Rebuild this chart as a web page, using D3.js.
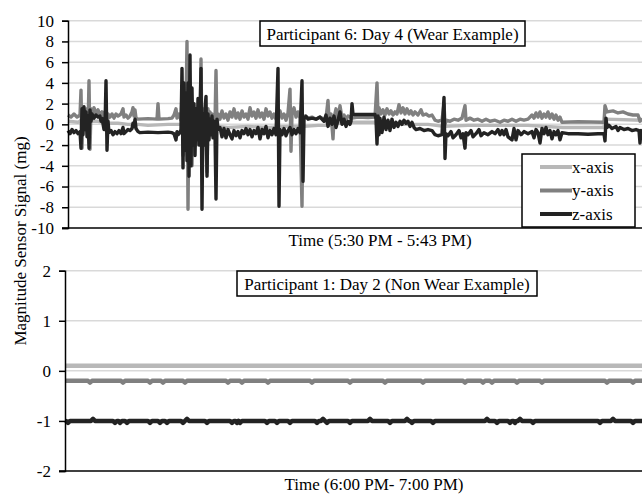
<!DOCTYPE html>
<meta charset="utf-8">
<style>
body { margin: 0; background: #fff; }
text { font-family: "Liberation Serif", "Times New Roman", serif; fill: #000; }
</style>
<svg width="642" height="494"></svg>
<script src="https://d3js.org/d3.v7.min.js"></script>
<script>
// ---- data: [sample index, signal (mg)] ----
var seriesNames = ["x-axis", "y-axis", "z-axis"];
var seriesColors = ["#b8b8b8", "#808080", "#232323"];

var wearTicks = [10, 8, 6, 4, 2, 0, -2, -4, -6, -8, -10];
var wearX = [[0,0.3],[10,0.2],[12,0.3],[13,0.4],[14,-1.0],[15,0.3],[20,0.1],[21,-1.5],[22,0.3],[30,0.3],[40,0.1],[50,0.1],[60,0.0],[70,0.0],[80,-0.1],[100,0.0],[113,0.0],[119,2.0],[120,-3.0],[125,1.0],[130,-1.0],[134,0.5],[140,-0.5],[148,0.5],[150,-0.2],[160,-0.3],[180,-0.2],[200,-0.3],[220,-0.2],[236,-0.2],[250,-0.1],[264,-0.1],[265,-0.3],[266,0.0],[270,0.1],[285,0.2],[307,0.2],[310,-0.2],[330,0.0],[360,0.0],[376,-0.2],[400,-0.1],[430,-0.1],[460,-0.1],[495,-0.3],[536,-0.3],[537,0.5],[574,0.4]];
var wearY = [[0,0.9],[3,0.7],[6,1.0],[9,0.7],[12,0.9],[13,3.3],[14,-2.3],[15,1.0],[17,0.5],[19,1.5],[20,-0.5],[21,4.2],[22,-2.4],[23,1.5],[24,0.5],[26,1.6],[28,1.0],[30,1.4],[32,0.9],[34,1.2],[36,0.8],[38,1.5],[39,-0.5],[40,1.0],[42,0.7],[44,1.0],[46,0.6],[48,1.0],[50,0.8],[53,1.0],[55,1.5],[56,0.7],[58,0.9],[60,0.6],[62,0.8],[64,1.2],[65,1.6],[66,0.8],[67,1.4],[68,0.6],[70,0.5],[80,0.55],[89,0.5],[90,2.0],[91,0.5],[100,0.55],[104,0.6],[106,0.9],[108,1.5],[109,0.6],[111,1.0],[113,0.4],[114,3.0],[115,-3.0],[116,2.5],[117,-2.0],[118,2.0],[119,8.0],[120,-8.2],[121,2.0],[122,-3.0],[123,3.5],[124,-4.0],[125,2.0],[126,-1.5],[127,1.5],[128,-2.0],[129,1.5],[130,-1.0],[131,2.0],[132,-1.5],[133,6.3],[134,-2.5],[135,1.5],[136,-1.0],[137,1.0],[138,-2.0],[139,-4.6],[140,1.5],[141,-0.5],[142,1.2],[143,0.0],[144,1.0],[145,-0.5],[146,0.8],[147,0.2],[148,5.2],[149,-0.5],[150,1.0],[152,0.5],[154,1.3],[156,0.6],[158,1.0],[160,0.4],[162,1.2],[164,0.7],[166,1.5],[168,0.6],[170,1.1],[172,0.5],[174,1.3],[176,0.7],[178,1.0],[180,0.5],[182,1.6],[184,0.8],[186,1.2],[188,0.6],[190,1.4],[192,0.7],[194,1.1],[196,0.5],[198,1.5],[200,0.8],[202,1.2],[204,0.6],[206,1.0],[208,0.5],[210,0.8],[212,1.3],[214,0.6],[216,1.0],[218,0.4],[220,1.1],[222,3.4],[223,-2.6],[224,1.0],[226,1.6],[228,0.7],[230,1.2],[232,0.6],[234,-7.9],[235,0.6],[236,0.8],[240,0.6],[244,0.7],[248,0.5],[252,0.7],[256,0.5],[258,0.6],[260,2.3],[261,0.5],[263,1.0],[265,-1.4],[266,0.6],[268,1.5],[270,0.5],[272,1.8],[274,0.6],[276,0.9],[278,0.5],[280,0.8],[284,0.6],[290,0.7],[300,0.65],[307,0.7],[309,4.0],[310,0.8],[311,1.6],[313,1.0],[315,1.4],[317,0.9],[319,1.5],[321,1.0],[323,1.3],[325,0.9],[327,1.2],[329,1.0],[331,1.9],[333,1.1],[335,1.6],[337,1.0],[339,1.5],[341,1.0],[343,1.3],[345,0.9],[347,1.2],[350,0.9],[353,1.4],[355,0.9],[358,1.0],[361,0.8],[364,0.9],[367,0.4],[370,0.3],[374,0.4],[376,2.0],[377,0.0],[378,0.4],[382,0.3],[386,0.5],[390,0.4],[394,0.6],[397,1.8],[398,0.4],[402,0.6],[406,0.4],[410,0.5],[414,0.3],[418,0.5],[422,0.3],[427,0.4],[432,0.2],[436,0.4],[440,0.3],[444,0.5],[448,0.3],[452,0.5],[456,0.4],[460,0.5],[464,0.9],[466,0.6],[468,1.1],[470,0.7],[472,1.2],[474,0.6],[476,1.0],[478,0.7],[480,1.2],[482,0.6],[484,1.0],[486,0.5],[488,0.9],[490,0.4],[492,0.7],[494,0.2],[510,0.25],[536,0.2],[537,1.8],[539,1.2],[545,1.3],[550,1.1],[555,1.2],[560,1.0],[565,0.9],[570,0.9],[572,0.3],[574,0.6]];
var wearZ = [[0,-0.6],[2,-0.9],[4,-0.5],[6,-0.8],[8,-0.6],[10,-0.9],[12,-0.7],[13,-2.3],[14,1.5],[15,-1.0],[16,1.7],[17,-0.5],[18,1.2],[19,-1.2],[20,0.8],[21,-2.3],[22,1.4],[23,0.3],[24,1.0],[26,0.6],[28,0.9],[30,0.7],[32,0.8],[33,0.3],[34,0.6],[36,-0.5],[37,-0.3],[38,4.2],[39,-2.5],[40,0.3],[41,-0.8],[43,-0.6],[45,-1.0],[47,-0.7],[49,-0.9],[51,-0.6],[53,-0.9],[55,-0.3],[56,-0.9],[58,-0.7],[60,-0.5],[62,-0.6],[64,-0.4],[65,0.1],[66,-0.2],[67,0.5],[68,-0.4],[70,-0.7],[72,-0.8],[80,-0.75],[90,-0.8],[100,-0.75],[104,-0.8],[106,-0.9],[108,-1.5],[109,-0.7],[110,-1.0],[112,-0.8],[113,-0.5],[114,5.4],[115,-4.2],[116,4.0],[117,-2.5],[118,3.0],[119,-3.5],[120,4.0],[121,-5.0],[122,6.7],[123,-4.0],[124,3.5],[125,-2.0],[126,2.0],[127,-3.0],[128,1.5],[129,-1.5],[130,2.5],[131,-2.0],[132,1.0],[133,5.4],[134,-8.2],[135,1.0],[136,-2.0],[137,1.5],[138,2.7],[139,-5.0],[140,1.0],[141,-1.5],[142,0.5],[143,-1.0],[144,0.8],[145,-1.3],[146,0.3],[147,-0.8],[148,-7.2],[149,0.5],[150,-0.5],[152,-0.3],[154,-1.2],[156,-0.4],[158,-1.3],[160,-0.5],[162,-1.0],[164,-1.4],[166,-0.6],[168,-1.1],[170,-0.7],[172,-1.3],[174,-0.6],[176,-0.9],[178,-0.4],[180,-1.0],[182,-0.5],[184,-1.2],[186,-0.6],[188,-0.9],[190,-0.3],[192,-1.4],[194,-0.5],[196,-0.9],[198,-0.2],[200,-1.3],[202,-0.6],[204,-1.0],[206,-0.4],[208,-1.0],[210,5.4],[211,-7.9],[212,-0.5],[214,-1.0],[216,-0.4],[218,-1.1],[220,-0.6],[222,-0.3],[224,-1.0],[226,-0.5],[228,-0.9],[230,-0.4],[232,-0.8],[234,4.2],[235,-5.5],[236,0.5],[238,0.8],[240,0.5],[244,0.6],[248,0.5],[252,0.7],[256,0.3],[258,0.9],[260,-0.2],[262,0.6],[264,0.0],[266,0.8],[268,-0.3],[270,0.4],[272,1.2],[274,0.0],[276,0.5],[278,-0.2],[280,0.3],[282,0.0],[283,0.3],[284,2.0],[285,0.95],[300,0.95],[307,0.95],[308,0.5],[309,-1.9],[310,0.8],[311,-1.0],[312,0.6],[314,-0.8],[316,0.7],[318,-0.5],[320,0.4],[322,-0.6],[324,0.5],[326,-0.3],[328,0.2],[330,-0.2],[332,0.3],[334,0.0],[336,0.4],[338,0.1],[340,0.3],[342,-0.2],[344,0.2],[346,-0.3],[348,-0.5],[352,-0.4],[356,-0.6],[360,-0.5],[364,-0.6],[367,-1.0],[370,-1.1],[374,-1.0],[376,2.6],[377,-3.3],[378,-0.9],[380,-1.1],[383,-0.7],[385,-1.3],[388,-1.0],[391,-0.6],[393,-1.3],[395,-0.9],[397,-2.3],[398,-0.8],[400,-1.0],[403,-0.6],[405,-1.2],[408,-0.9],[411,-0.5],[413,-1.1],[416,-0.8],[420,-1.0],[424,-0.7],[427,-0.9],[430,-0.5],[432,-1.0],[434,-0.6],[436,-1.0],[438,-0.5],[440,-1.2],[444,-1.5],[446,-0.4],[448,-1.5],[450,-0.6],[453,-1.0],[456,-0.7],[460,-0.9],[464,-0.7],[466,-1.3],[468,-0.5],[470,-0.8],[472,-1.8],[474,-0.4],[476,-0.9],[478,-0.3],[480,-1.0],[482,-0.6],[484,-1.4],[486,-0.7],[488,-1.0],[490,-0.6],[492,-1.5],[494,-0.8],[500,-0.9],[510,-0.9],[520,-0.95],[530,-0.9],[536,-0.9],[537,-1.6],[538,0.6],[539,-0.3],[541,-0.1],[544,-0.4],[548,-0.2],[550,-0.6],[552,-0.3],[556,-0.5],[560,-0.4],[564,-0.6],[568,-0.5],[571,-0.6],[572,-1.8],[573,-0.6],[574,-0.8]];

var nonWearTicks = [2, 1, 0, -1, -2];
var nonWearX = [[0,0.1],[200,0.1],[400,0.1],[577,0.1]];
var nonWearY = [[0,-0.2],[23,-0.2],[25,-0.235],[27,-0.2],[56,-0.2],[58,-0.235],[60,-0.2],[83,-0.2],[85,-0.235],[87,-0.2],[96,-0.2],[98,-0.235],[100,-0.2],[118,-0.2],[120,-0.235],[122,-0.2],[161,-0.2],[163,-0.235],[165,-0.2],[175,-0.2],[177,-0.235],[179,-0.2],[201,-0.2],[203,-0.235],[205,-0.2],[245,-0.2],[247,-0.235],[249,-0.2],[283,-0.2],[285,-0.235],[287,-0.2],[318,-0.2],[320,-0.235],[322,-0.2],[356,-0.2],[358,-0.235],[360,-0.2],[398,-0.2],[400,-0.235],[402,-0.2],[416,-0.2],[418,-0.235],[420,-0.2],[425,-0.2],[427,-0.235],[429,-0.2],[450,-0.2],[452,-0.235],[454,-0.2],[475,-0.2],[477,-0.235],[479,-0.2],[540,-0.2],[542,-0.235],[544,-0.2],[566,-0.2],[568,-0.235],[570,-0.2],[577,-0.2]];
var nonWearZ = [[0,-1],[1,-1],[3,-1.04],[5,-1],[26,-1],[28,-0.96],[30,-1],[48,-1],[50,-1.04],[52,-1],[53.5,-1],[55,-1.04],[57,-1],[60,-1],[62,-1.04],[64,-1],[83,-1],[85,-1.04],[87,-1],[93,-1],[95,-1.04],[97,-1],[100,-1],[102,-1.04],[104,-1],[116,-1],[118,-1.04],[120,-1],[122,-0.96],[124,-1],[140,-1],[142,-1.04],[144,-1],[165,-1],[167,-1.04],[169,-1],[170.5,-1],[172,-1.04],[173.5,-1],[175,-1.04],[177,-1],[200,-1],[202,-1.04],[204,-1],[210,-1],[212,-1.04],[214,-1],[223,-1],[225,-1.04],[227,-1],[250,-1],[252,-1.04],[254,-1],[256,-1],[258,-0.96],[260,-1],[262,-1.04],[264,-1],[283,-1],[285,-1.04],[287,-1],[303,-1],[305,-0.96],[307,-1],[323,-1],[325,-1.04],[327,-1],[340,-1],[342,-0.96],[344,-1],[345,-1],[347,-1.04],[349,-1],[366,-1],[368,-1.04],[370,-1],[420,-1],[422,-0.96],[424,-1],[430,-1],[432,-1.04],[434,-1],[443,-1],[445,-1.04],[447,-1],[448.5,-1],[450,-1.04],[451.5,-1],[453,-1],[455,-0.96],[457,-1],[466,-1],[468,-1.04],[470,-1],[533,-1],[535,-1.04],[537,-1],[546,-1],[548,-0.96],[550,-1],[566,-1],[568,-1.04],[570,-1],[577,-1]];

var svg = d3.select("svg");

svg.append("rect").attr("width", 642).attr("height", 494).attr("fill", "#fff");

// draws one panel of the figure
function panel(o) {
    var x = d3.scaleLinear().domain([0, o.samples]).range([o.left, 642]);
    var y = d3.scaleLinear().domain([o.ticks[o.ticks.length - 1], o.ticks[0]]).range([o.bottom, o.top]);
    var g = svg.append("g");

    // light horizontal grid
    g.selectAll("line.grid")
        .data(o.ticks.slice(0, -1))
        .enter().append("line")
        .attr("class", "grid")
        .attr("x1", o.left).attr("x2", 642)
        .attr("y1", function(d) { return y(d); })
        .attr("y2", function(d) { return y(d); })
        .attr("stroke", "#d9d9d9")
        .attr("stroke-width", 1.5);

    var line = d3.line()
        .x(function(d) { return x(d[0]); })
        .y(function(d) { return y(d[1]); });

    g.selectAll("path.series")
        .data(o.series)
        .enter().append("path")
        .attr("class", "series")
        .attr("d", line)
        .attr("fill", "none")
        .attr("stroke", function(d, i) { return seriesColors[i]; })
        .attr("stroke-width", o.lineWidth)
        .attr("stroke-linejoin", "round");

    // baseline
    g.append("line")
        .attr("x1", o.left - 6).attr("x2", 642)
        .attr("y1", o.bottom).attr("y2", o.bottom)
        .attr("stroke", "#000").attr("stroke-width", 1.5);

    var axis = g.append("g")
        .attr("transform", "translate(" + o.left + ",0)")
        .call(d3.axisLeft(y).tickValues(o.ticks).tickSize(6).tickPadding(8)
            .tickFormat(function(d) { return String(d); }));
    axis.select(".domain").attr("stroke", "#000").attr("stroke-width", 1.5);
    axis.selectAll(".tick line").attr("stroke", "#000").attr("stroke-width", 1.5);
    axis.selectAll(".tick text")
        .style("font-family", "Liberation Serif")
        .style("font-size", "17px")
        .attr("fill", "#000");

    // title box
    g.append("rect")
        .attr("x", o.box[0]).attr("y", o.box[1])
        .attr("width", o.box[2]).attr("height", o.box[3])
        .attr("fill", "#fff").attr("stroke", "#000").attr("stroke-width", 1.5);
    g.append("text")
        .attr("x", o.box[0] + o.box[2] / 2)
        .attr("y", o.box[1] + o.box[3] / 2 + 6)
        .attr("text-anchor", "middle")
        .style("font-size", "17px")
        .text(o.title);

    g.append("text")
        .attr("x", o.labelX).attr("y", o.labelY)
        .attr("text-anchor", "middle")
        .style("font-size", "17px")
        .text(o.xLabel);
}

panel({
    samples: 574, left: 68, top: 20.7, bottom: 228,
    ticks: wearTicks, series: [wearX, wearY, wearZ], lineWidth: 3.4,
    box: [260, 21, 265, 25], title: "Participant 6: Day 4 (Wear Example)",
    xLabel: "Time (5:30 PM - 5:43 PM)", labelX: 380, labelY: 246
});

panel({
    samples: 577, left: 65, top: 270.7, bottom: 471,
    ticks: nonWearTicks, series: [nonWearX, nonWearY, nonWearZ], lineWidth: 4.5,
    box: [237, 271, 300, 25], title: "Participant 1: Day 2 (Non Wear Example)",
    xLabel: "Time (6:00 PM- 7:00 PM)", labelX: 374, labelY: 490
});

// legend
var legend = svg.append("g");
legend.append("rect")
    .attr("x", 522).attr("y", 154).attr("width", 113).attr("height", 73)
    .attr("fill", "#fff").attr("stroke", "#000").attr("stroke-width", 1.5);
var item = legend.selectAll("g.item")
    .data(seriesNames)
    .enter().append("g")
    .attr("transform", function(d, i) { return "translate(540," + (167 + i * 23.5) + ")"; });
item.append("line")
    .attr("x1", 0).attr("x2", 32)
    .attr("stroke", function(d, i) { return seriesColors[i]; })
    .attr("stroke-width", 4);
item.append("text")
    .attr("x", 32).attr("y", 5.5)
    .style("font-size", "17px")
    .text(function(d) { return d; });

// shared y label
svg.append("text")
    .attr("transform", "translate(26,241) rotate(-90)")
    .attr("text-anchor", "middle")
    .style("font-size", "17px")
    .text("Magnitude Sensor Signal (mg)");
</script>
